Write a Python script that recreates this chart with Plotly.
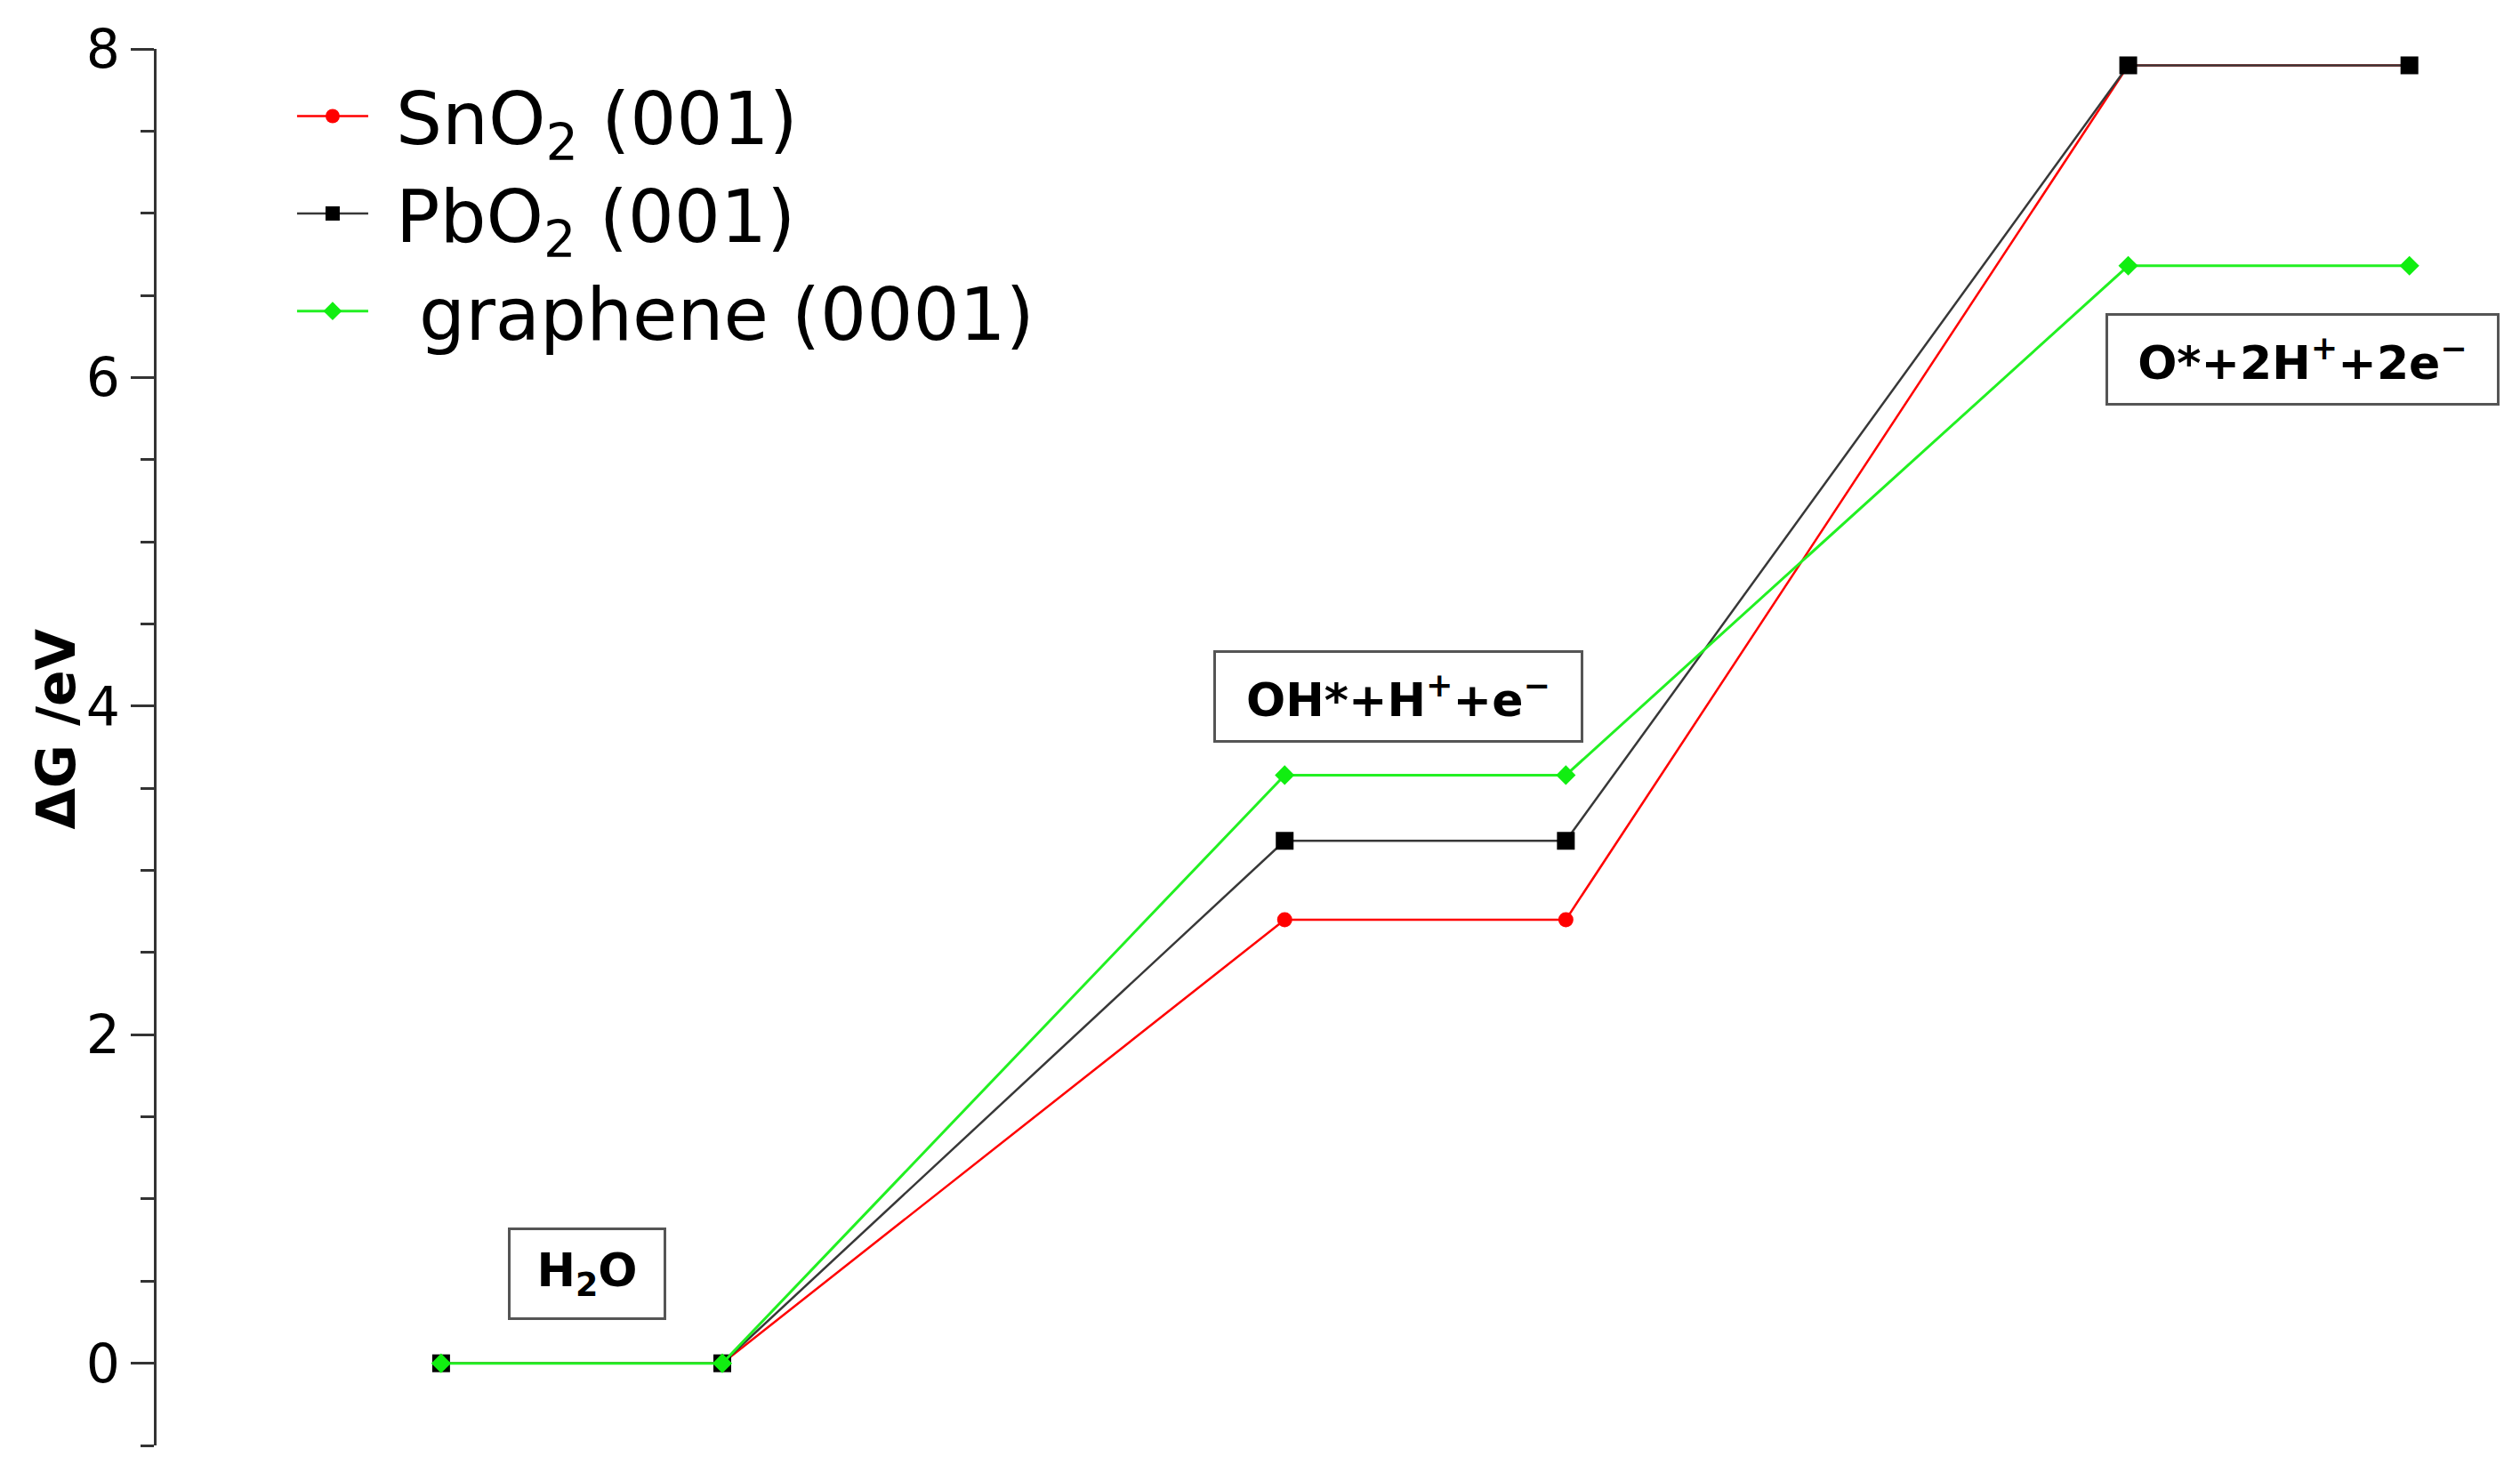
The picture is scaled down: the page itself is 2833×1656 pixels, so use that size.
import plotly.graph_objects as go

# reaction steps (x positions of the level endpoints)
steps = [1, 2, 4, 5, 7, 8]

sno2 = [0, 0, 2.70, 2.70, 7.90, 7.90]
pbo2 = [0, 0, 3.18, 3.18, 7.90, 7.90]
graphene = [0, 0, 3.58, 3.58, 6.68, 6.68]

names = [" SnO<sub>2</sub> (001)", " PbO<sub>2</sub> (001)", "  graphene (0001)"]

label_text = ["H<sub>2</sub>O", "OH*+H<sup>+</sup>+e<sup>\u2212</sup>",
              "O*+2H<sup>+</sup>+2e<sup>\u2212</sup>"]
label_x = [1.52, 4.405, 7.62]
label_y = [0.546, 4.06, 6.11]
label_w = [152, 390, 417]

FONT = "DejaVu Sans"

fig = go.Figure()

fig.add_trace(go.Scatter(
    x=steps, y=sno2, name=names[0], mode="lines+markers",
    line=dict(color="#ff0000", width=2.5),
    marker=dict(symbol="circle", size=17, color="#ff0000")))

fig.add_trace(go.Scatter(
    x=steps, y=pbo2, name=names[1], mode="lines+markers",
    line=dict(color="#383838", width=2.5),
    marker=dict(symbol="square", size=20, color="#000000")))

fig.add_trace(go.Scatter(
    x=steps, y=graphene, name=names[2], mode="lines+markers",
    line=dict(color="#22f022", width=3),
    marker=dict(symbol="diamond", size=17, color="#11ee11")))

for t, x, y, w in zip(label_text, label_x, label_y, label_w):
    fig.add_annotation(
        x=x, y=y, text=t, showarrow=False,
        font=dict(family=FONT, size=52, color="black", weight="bold"),
        bordercolor="#555555", borderwidth=3, borderpad=10,
        bgcolor="white", width=w, height=78, align="center")

# y axis title as a rotated annotation
fig.add_annotation(
    x=-0.043, y=0.5, xref="paper", yref="paper", text="\u0394G /eV",
    textangle=-90, showarrow=False, xanchor="center", yanchor="middle",
    yshift=20,
    font=dict(family=FONT, size=60, color="black", weight="bold"))

fig.update_xaxes(visible=False, range=[-0.012, 8.33])

fig.update_yaxes(
    range=[-0.5, 8], tickvals=[0, 2, 4, 6, 8],
    showline=True, linecolor="#333333", linewidth=3,
    ticks="outside", ticklen=26, tickwidth=3, tickcolor="#333333",
    minor=dict(dtick=0.5, ticks="outside", ticklen=15, tickwidth=3,
               tickcolor="#333333"),
    showgrid=False, zeroline=False,
    tickfont=dict(family=FONT, size=60, color="black"))

fig.update_layout(
    width=2817, height=1640,
    margin=dict(l=168, r=12, t=41, b=23),
    plot_bgcolor="white", paper_bgcolor="white",
    showlegend=True,
    legend=dict(x=0.058, y=0.99, xanchor="left", yanchor="top",
                font=dict(family=FONT, size=82, color="black"),
                itemwidth=80, bgcolor="rgba(0,0,0,0)"),
)

fig.write_html("out.html")
